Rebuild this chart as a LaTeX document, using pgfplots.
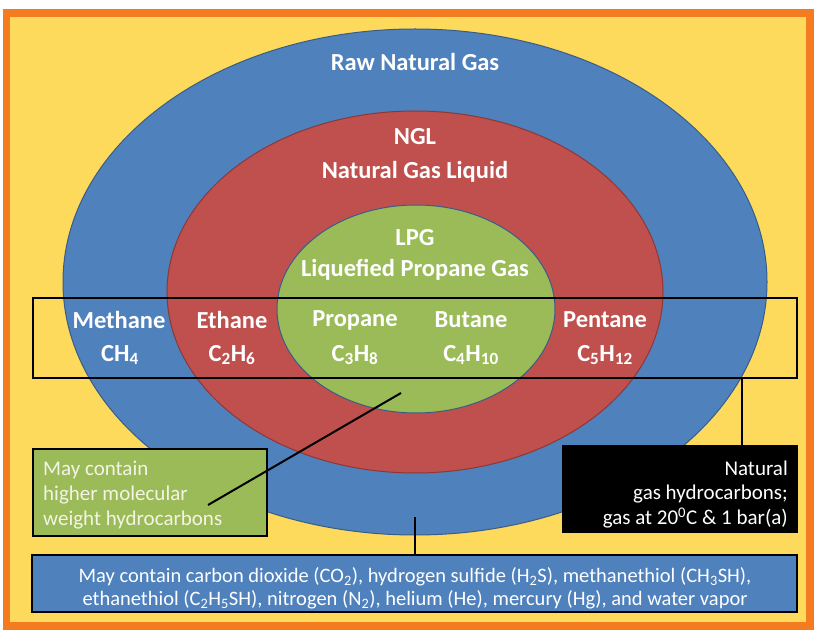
\documentclass[border=0pt]{standalone}
\usepackage{pgfplots}
\pgfplotsset{compat=1.18}
\usepackage{fontspec}
\setmainfont{Carlito}
\definecolor{bgorange}{HTML}{F47B20}
\definecolor{bgyellow}{HTML}{FDD95C}
\definecolor{oblue}{HTML}{4F81BD}
\definecolor{oblueline}{HTML}{385D8A}
\definecolor{ored}{HTML}{C0504D}
\definecolor{oredline}{HTML}{8C3836}
\definecolor{ogreen}{HTML}{9BBB59}
\definecolor{ogreenline}{HTML}{71893F}
\definecolor{cream}{HTML}{F4F4E4}
\begin{document}
\begin{tikzpicture}
\begin{axis}[width=814pt, height=630pt, scale only axis,
  xmin=0, xmax=814, ymin=0, ymax=630, hide axis, clip=false]
% background
\fill[white] (0,0) rectangle (814,630);
\fill[bgorange] (3,0) rectangle (814,621);
\fill[bgyellow] (10,8) rectangle (806,613);
% ellipses
\filldraw[fill=oblue, draw=oblueline, line width=1pt] (415,348) ellipse [x radius=352, y radius=253];
\filldraw[fill=ored, draw=oredline, line width=1pt] (415,338) ellipse [x radius=248, y radius=181];
\filldraw[fill=ogreen, draw=oblueline, line width=1pt] (416,321) ellipse [x radius=139, y radius=104];
% ellipse labels
\begin{scope}[every node/.style={text=white, font=\fontsize{24.5}{28}\selectfont\bfseries, inner sep=0pt}]
\node at (415,568) {Raw Natural Gas};
\node at (415,493) {NGL};
\node at (415,458) {Natural Gas Liquid};
\node at (415,392) {LPG};
\node at (415,360) {Liquefied Propane Gas};
\node at (119,310) {Methane};
\node at (232,310) {Ethane};
\node at (355,310) {Propane};
\node at (471,310) {Butane};
\node at (605,310) {Pentane};
\node at (120,275) {CH\textsubscript{4}};
\node at (232,275) {C\textsubscript{2}H\textsubscript{6}};
\node at (355,275) {C\textsubscript{3}H\textsubscript{8}};
\node at (471,275) {C\textsubscript{4}H\textsubscript{10}};
\node at (605,275) {C\textsubscript{5}H\textsubscript{12}};
\end{scope}
% black frame around hydrocarbons
\draw[black, line width=2.5pt] (33,252) rectangle (797,332);
\draw[black, line width=2pt] (742,252) -- (742,185);
% black box
\fill[black] (562,97) rectangle (798,185);
\begin{scope}[every node/.style={text=white, font=\fontsize{21}{25}\selectfont, inner sep=0pt, anchor=east}]
\node at (788,162) {Natural};
\node at (788,136) {gas hydrocarbons;};
\node at (788,112) {gas at 20\textsuperscript{0}C \& 1 bar(a)};
\end{scope}
% green box
\filldraw[fill=ogreen, draw=black, line width=2pt] (33,94) rectangle (267,181);
\begin{scope}[every node/.style={text=cream, font=\fontsize{21}{25}\selectfont, inner sep=0pt, anchor=west}]
\node at (43,160) {May contain};
\node at (43,135) {higher molecular};
\node at (43,110) {weight hydrocarbons};
\end{scope}
\draw[black, line width=2pt] (208,125) -- (401,237);
% bottom box
\draw[black, line width=2pt] (415,113) -- (415,75);
\filldraw[fill=oblue, draw=black, line width=2pt] (32,18) rectangle (797,75);
\begin{scope}[every node/.style={text=white, font=\fontsize{20.5}{24}\selectfont, inner sep=0pt}]
\node at (415,53) {May contain carbon dioxide (CO\textsubscript{2}), hydrogen sulfide (H\textsubscript{2}S), methanethiol (CH\textsubscript{3}SH),};
\node at (415,30) {ethanethiol (C\textsubscript{2}H\textsubscript{5}SH), nitrogen (N\textsubscript{2}), helium (He), mercury (Hg), and water vapor};
\end{scope}
\end{axis}
\end{tikzpicture}
\end{document}
